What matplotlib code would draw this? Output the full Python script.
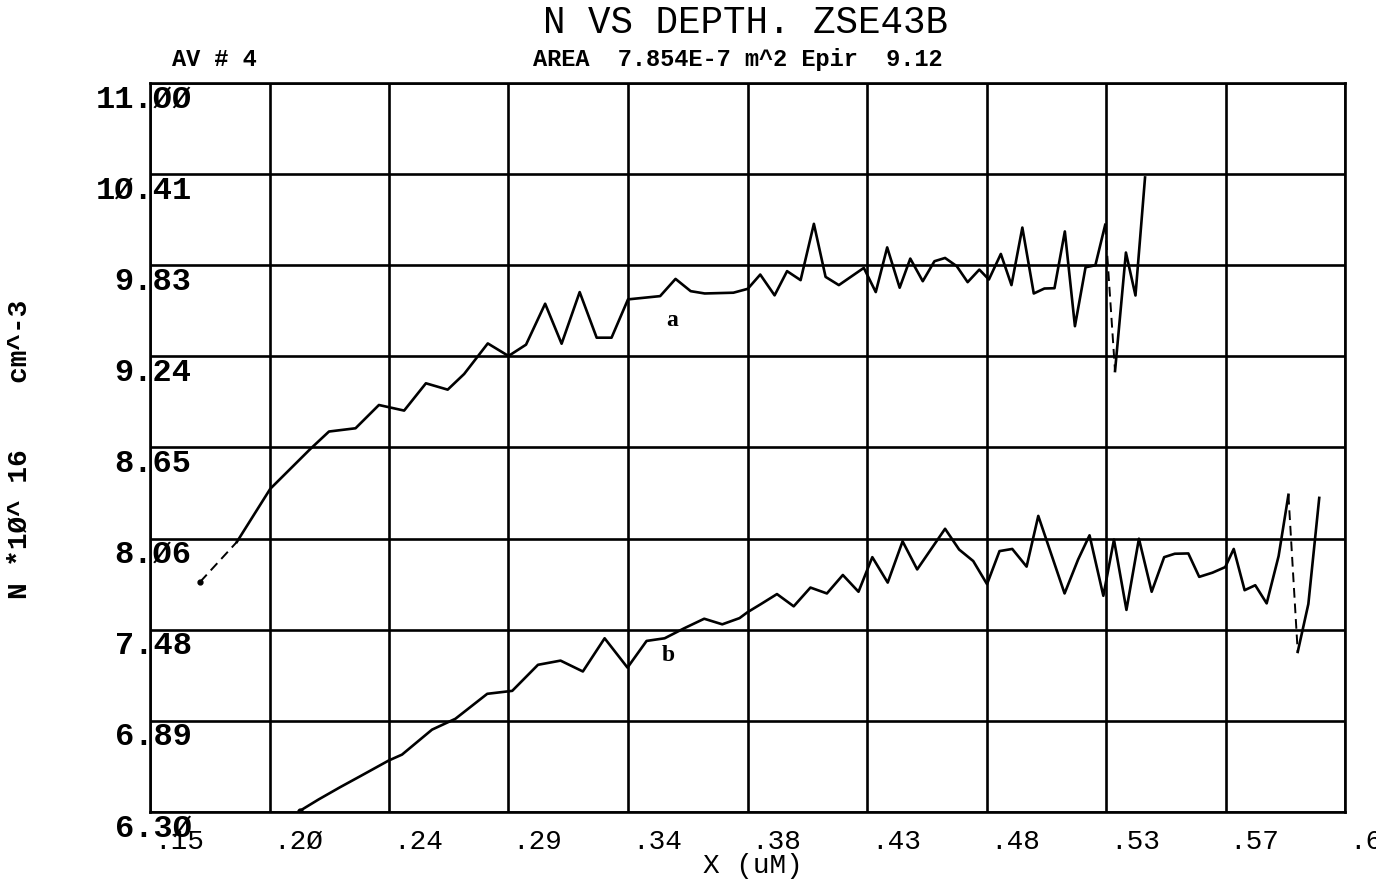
import matplotlib
matplotlib.use("Agg")
import matplotlib.pyplot as plt

# -----------------------------
# DATA
# -----------------------------
x_a = [0.1689, 0.1827, 0.1953, 0.2104, 0.2174, 0.2274, 0.2362, 0.2457, 0.2539, 0.2621,
       0.2683, 0.2772, 0.2850, 0.2916, 0.2988, 0.3050, 0.3118, 0.3182, 0.3238, 0.3300,
       0.3421, 0.3479, 0.3536, 0.3589, 0.3697, 0.3751, 0.3798, 0.3852, 0.3899, 0.3950,
       0.4000, 0.4044, 0.4094, 0.4188, 0.4233, 0.4276, 0.4323, 0.4363, 0.4410, 0.4454,
       0.4494, 0.4538, 0.4579, 0.4623, 0.4659, 0.4704, 0.4744, 0.4785, 0.4828, 0.4868,
       0.4906, 0.4945, 0.4983, 0.5023, 0.5060, 0.5097, 0.5134, 0.5175, 0.5211, 0.5247]
n_a = [7.784, 8.041, 8.384, 8.641, 8.753, 8.774, 8.924, 8.888, 9.064, 9.023,
       9.124, 9.321, 9.240, 9.313, 9.577, 9.319, 9.652, 9.358, 9.358, 9.605,
       9.626, 9.737, 9.658, 9.643, 9.648, 9.673, 9.765, 9.631, 9.787, 9.729,
       10.092, 9.750, 9.697, 9.808, 9.652, 9.940, 9.680, 9.868, 9.722, 9.851,
       9.872, 9.819, 9.716, 9.797, 9.733, 9.898, 9.697, 10.068, 9.643, 9.675,
       9.677, 10.043, 9.432, 9.812, 9.825, 10.086, 9.143, 9.907, 9.630, 10.391]

x_b = [0.2063, 0.2135, 0.2216, 0.2292, 0.2399, 0.2449, 0.2562, 0.2650, 0.2770, 0.2864,
       0.2961, 0.3046, 0.3130, 0.3212, 0.3298, 0.3370, 0.3438, 0.3511, 0.3587, 0.3655,
       0.3720, 0.3750, 0.3801, 0.3861, 0.3924, 0.3987, 0.4049, 0.4109, 0.4168, 0.4220,
       0.4278, 0.4334, 0.4389, 0.4494, 0.4547, 0.4600, 0.4652, 0.4699, 0.4747, 0.4801,
       0.4845, 0.4944, 0.4995, 0.5038, 0.5090, 0.5130, 0.5177, 0.5224, 0.5272, 0.5319,
       0.5359, 0.5410, 0.5451, 0.5501, 0.5549, 0.5581, 0.5622, 0.5662, 0.5705, 0.5750,
       0.5787, 0.5822, 0.5862, 0.5903]
n_b = [6.306, 6.381, 6.460, 6.531, 6.632, 6.670, 6.831, 6.901, 7.062, 7.081,
       7.249, 7.276, 7.206, 7.420, 7.231, 7.403, 7.420, 7.484, 7.546, 7.510,
       7.550, 7.588, 7.641, 7.705, 7.626, 7.747, 7.709, 7.828, 7.720, 7.943,
       7.779, 8.045, 7.864, 8.126, 7.992, 7.918, 7.769, 7.982, 7.996, 7.882,
       8.209, 7.709, 7.928, 8.084, 7.694, 8.056, 7.603, 8.062, 7.720, 7.943,
       7.965, 7.967, 7.816, 7.843, 7.879, 7.996, 7.730, 7.762, 7.645, 7.950,
       8.345, 7.332, 7.641, 8.325]

# segments (start index) that the plotter drew broken
a_dashed = [0, 55]
b_dashed = [60]

x_ticks = [0.15, 0.195, 0.24, 0.285, 0.33, 0.375, 0.42, 0.465, 0.51, 0.555, 0.60]
x_labels = [".15", ".2Ø", ".24", ".29", ".34", ".38", ".43", ".48", ".53", ".57", ".6Ø"]
y_ticks = [6.30, 6.8875, 7.475, 8.0625, 8.65, 9.2375, 9.825, 10.4125, 11.00]
y_labels = ["6.3Ø", "6.89", "7.48", "8.Ø6", "8.65", "9.24", "9.83", "1Ø.41", "11.ØØ"]

FONT = ["Liberation Mono", "DejaVu Sans Mono"]
LW = 1.9

# -----------------------------
# FIGURE
# -----------------------------
fig = plt.figure(figsize=(13.76, 8.81), dpi=100)
ax = fig.add_axes([150 / 1376, 1 - 812 / 881, 1195 / 1376, 729 / 881])
ax.set_xlim(0.15, 0.60)
ax.set_ylim(6.30, 11.00)
ax.set_xticks(x_ticks)
ax.set_yticks(y_ticks)
ax.grid(True, color="black", lw=LW)
ax.tick_params(length=0, labelbottom=False, labelleft=False)
for s in ax.spines.values():
    s.set_linewidth(LW)


def draw_curve(xs, ys, dashed):
    start = 0
    for i in dashed:
        if i > start:
            ax.plot(xs[start:i + 1], ys[start:i + 1], color="black", lw=LW)
        ax.plot(xs[i:i + 2], ys[i:i + 2], color="black", lw=1.4, dashes=(5, 3))
        start = i + 1
    ax.plot(xs[start:], ys[start:], color="black", lw=LW)
    ax.plot(xs[0], ys[0], "o", color="black", ms=3.5)


draw_curve(x_a, n_a, a_dashed)
draw_curve(x_b, n_b, b_dashed)

ax.text(0.3466, 9.47, "a", family="Liberation Serif", weight="bold", fontsize=17,
        ha="center", va="center")
ax.text(0.3451, 7.31, "b", family="Liberation Serif", weight="bold", fontsize=17,
        ha="center", va="center")

# tick labels, placed like the plotter did
for xv, lab in zip(x_ticks, x_labels):
    ax.annotate(lab, xy=(xv, 0), xycoords=("data", "axes fraction"),
                xytext=(3, -12), textcoords="offset points", ha="left", va="top",
                family=FONT, fontsize=20, annotation_clip=False)
for yv, lab in zip(y_ticks, y_labels):
    ax.annotate(lab, xy=(0, yv), xycoords=("axes fraction", "data"),
                xytext=(30, -1), textcoords="offset points", ha="right", va="top",
                family=FONT, fontsize=23, weight="bold", annotation_clip=False)

fig.text(0.542, 0.974, "N VS DEPTH. ZSE43B", family=FONT, fontsize=27,
         ha="center", va="center")
fig.text(0.536, 0.932, "AREA  7.854E-7 m^2 Epir  9.12", family=FONT, fontsize=17,
         weight="bold", ha="center", va="center")
fig.text(0.156, 0.932, "AV # 4", family=FONT, fontsize=17, weight="bold",
         ha="center", va="center")
fig.text(0.547, 0.017, "X (uM)", family=FONT, fontsize=20, ha="center", va="center")
fig.text(0.0145, 0.49, "N *1Ø^ 16    cm^-3", family=FONT, fontsize=20, weight="bold",
         rotation=90, ha="center", va="center")

fig.savefig("out.png", dpi=100, facecolor="white")
